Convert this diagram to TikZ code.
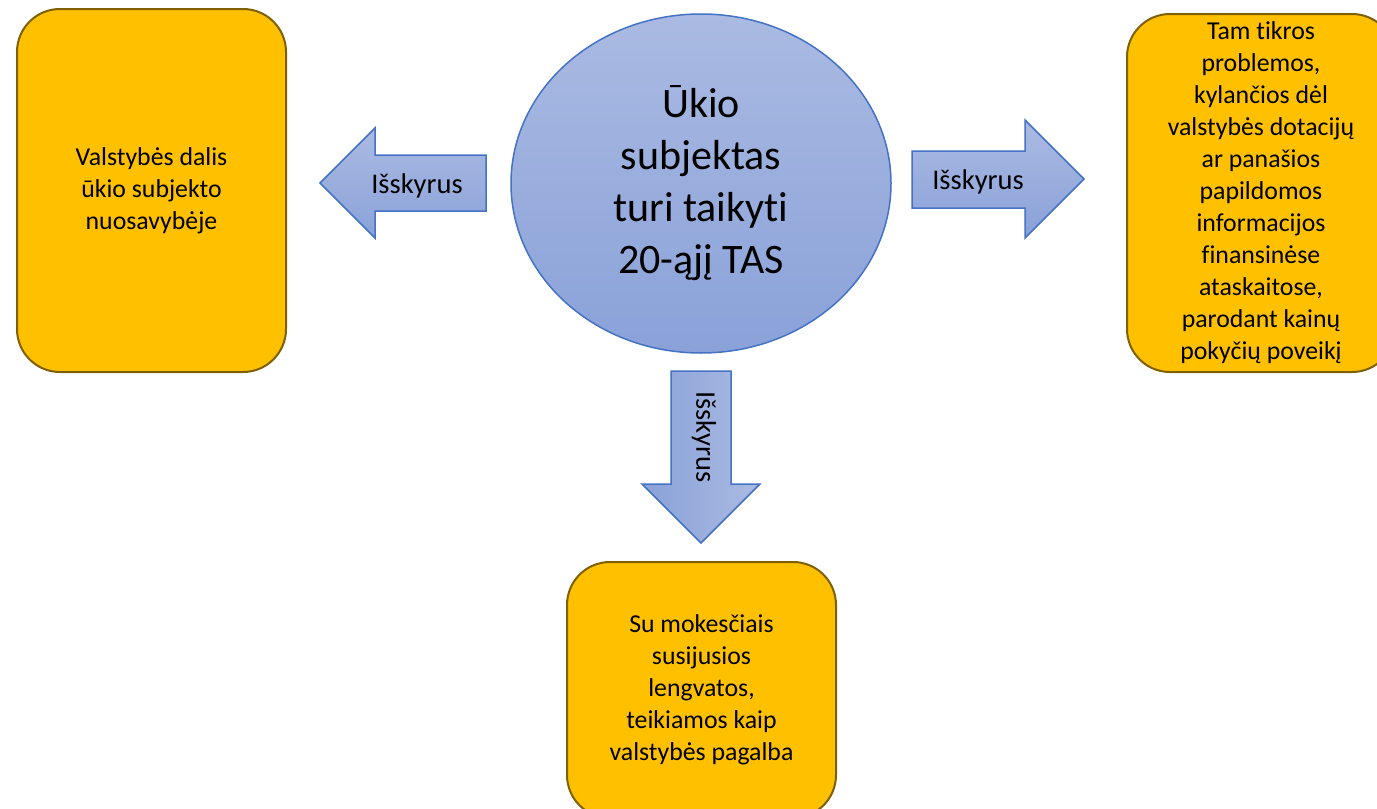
\documentclass[tikz,border=0pt]{standalone}
\usepackage{fontspec}
\setmainfont{Carlito}[RawFeature={-liga;-clig;-calt;-dlig}]
\usetikzlibrary{shapes.geometric}
\newcommand\nlti{t\kern0pt i}
\definecolor{boxfill}{HTML}{FFC000}
\definecolor{boxline}{HTML}{7F6000}
\definecolor{blueline}{HTML}{4472C4}
\definecolor{bluelight}{HTML}{AABAE2}
\definecolor{bluedark}{HTML}{8AA2D9}
\tikzset{
  box/.style={draw=boxline, line width=2pt, fill=boxfill, rounded corners=43pt, align=center, inner sep=0pt,
    font=\fontsize{25.8}{32}\selectfont},
  blockarrow/.style={draw=blueline, line width=1.5pt, top color=bluelight, bottom color=bluedark},
  arrowtext/.style={font=\fontsize{28.5}{32}\selectfont, inner sep=0pt}
}
\begin{document}
\begin{tikzpicture}[x=1pt,y=-1pt]
\useasboundingbox (0,0) rectangle (1377,809);
\begin{scope}
\clip (0,0) rectangle (1377,809);
% boxes
\node[box, minimum width=269pt, minimum height=363pt] (left) at (151.5,190.5)
  {Valstybės dalis\\ūkio subjekto\\nuosavybėje};
\node[box, minimum width=268pt, minimum height=358pt] (right) at (1261,193)
  {Tam \nlti kros\\problemos,\\kylančios dėl\\valstybės dotacijų\\ar panašios\\papildomos\\informacijos\\finansinėse\\ataskaitose,\\parodant kainų\\pokyčių poveikį};
\node[box, minimum width=269pt, minimum height=256pt] (bottom) at (701.5,690)
  {Su mokesčiais\\susijusios\\lengvatos,\\teikiamos kaip\\valstybės pagalba};
% center ellipse
\node[ellipse, draw=blueline, line width=1.5pt, top color=bluelight, bottom color=bluedark,
  minimum width=380pt, minimum height=339pt, inner sep=0pt, align=center,
  font=\fontsize{42}{52}\selectfont] (center) at (701,183.5)
  {Ūkio\\subjektas\\turi taiky\nlti\\20-ąjį TAS};
% block arrows
\path[blockarrow] (486,155) -- (375,155) -- (375,128) -- (320,183) -- (375,238) -- (375,211) -- (486,211) -- cycle;
\node[arrowtext] (lefttext) at (417,186) {Išskyrus};
\path[blockarrow] (912,151) -- (1025,151) -- (1025,120) -- (1084,179) -- (1025,238) -- (1025,208) -- (912,208) -- cycle;
\node[arrowtext] (righttext) at (978,182) {Išskyrus};
\path[draw=blueline, line width=1.5pt, left color=bluedark, right color=bluelight]
  (671,371) -- (731,371) -- (731,484) -- (760,484) -- (701,543) -- (642,484) -- (671,484) -- cycle;
\node[arrowtext, rotate=-90] (downtext) at (704,437) {Išskyrus};
\end{scope}
\end{tikzpicture}
\end{document}
